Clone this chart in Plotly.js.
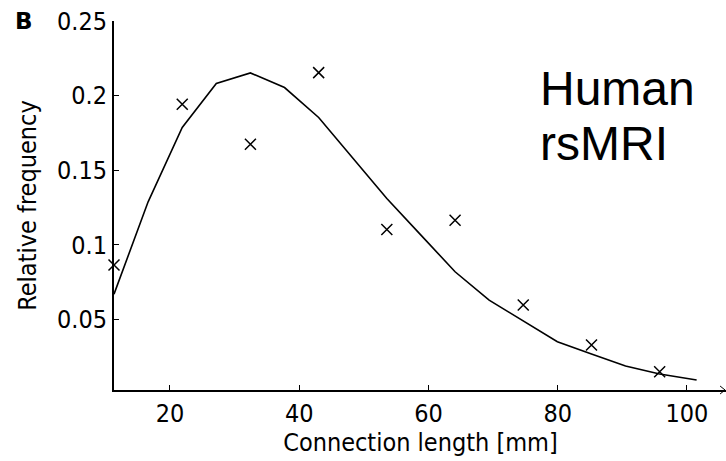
<!DOCTYPE html>
<html>
<head>
<meta charset="utf-8">
<script src="https://cdn.plot.ly/plotly-3.0.1.min.js"></script>
<style>
  html, body { margin: 0; padding: 0; overflow: hidden; background: #fff; }
  #chart { width: 740px; height: 461px; }
</style>
</head>
<body>
<div id="chart"></div>
<script>
// Binned connection lengths (mm) and observed relative frequency
const binLength = [11.34, 21.90, 32.45, 43.01, 53.56, 64.12, 74.67, 85.23, 95.78];
const observedFreq = [0.0864, 0.1942, 0.1674, 0.2154, 0.1103, 0.1165, 0.0596, 0.0328, 0.0149];

// Fitted distribution, sampled at half-bin steps
const fitLength = [11.34, 16.62, 21.90, 27.17, 32.45, 37.73, 43.01, 48.28, 53.56,
                   58.84, 64.12, 69.39, 74.67, 79.95, 85.23, 90.50, 95.78, 101.5];
const fitFreq = [0.0669, 0.1288, 0.1786, 0.2081, 0.2152, 0.2054, 0.1853, 0.1578, 0.1310,
                 0.1065, 0.0819, 0.0629, 0.0492, 0.0350, 0.0268, 0.0187, 0.0134, 0.0093];

// Axis ticks
const xTicks = [20, 40, 60, 80, 100];
const yTicks = [0.05, 0.1, 0.15, 0.2, 0.25];
const yTickText = ['0.05', '0.1', '0.15', '0.2', '0.25'];

const xRange = [11.34, 106.2];
const yRange = [0.00265, 0.25];

const sans = 'DejaVu Sans Condensed, DejaVu Sans, sans-serif';
const tickFont = { family: sans, size: 25, color: '#000' };

const traces = [
  {
    x: fitLength, y: fitFreq, type: 'scatter', mode: 'lines',
    line: { color: '#000', width: 1.6 },
    cliponaxis: false, hoverinfo: 'skip'
  },
  {
    x: binLength, y: observedFreq, type: 'scatter', mode: 'markers',
    marker: { symbol: 'x-thin', size: 11, color: '#000', line: { color: '#000', width: 1.5 } },
    cliponaxis: false, hoverinfo: 'skip'
  }
];

const baseAxis = {
  showgrid: false, zeroline: false, showline: true, linecolor: '#000',
  ticks: 'inside', ticklen: 5, tickwidth: 1, tickcolor: '#000'
};

const layout = {
  width: 740, height: 461,
  margin: { l: 114, r: 12.6, t: 20.7, b: 71 },
  paper_bgcolor: '#fff', plot_bgcolor: '#fff',
  showlegend: false,
  xaxis: Object.assign({}, baseAxis, {
    range: xRange, tickvals: xTicks, linewidth: 2, tickfont: tickFont,
    title: { text: 'Connection length [mm]', font: tickFont, standoff: 4 }
  }),
  xaxis2: Object.assign({}, baseAxis, {
    range: xRange, tickvals: xTicks, linewidth: 1, showticklabels: false,
    overlaying: 'x', side: 'top', anchor: 'y'
  }),
  yaxis: Object.assign({}, baseAxis, {
    range: yRange, tickvals: yTicks, ticktext: yTickText, linewidth: 2, tickfont: tickFont,
    title: { text: 'Relative frequency', font: tickFont, standoff: 13 }
  }),
  yaxis2: Object.assign({}, baseAxis, {
    range: yRange, tickvals: yTicks, linewidth: 1, showticklabels: false,
    overlaying: 'y', side: 'right', anchor: 'x'
  }),
  shapes: [
    // arrow head closing the x axis
    { type: 'path', xref: 'paper', yref: 'paper',
      path: 'M 0.9887,0.0108 L 0.9968,0 L 0.9887,-0.0108',
      line: { color: '#000', width: 1 } }
  ],
  annotations: [
    { text: '<b>B</b>', xref: 'paper', yref: 'paper', x: -0.1475, y: 0.9992,
      xanchor: 'center', yanchor: 'middle', showarrow: false, borderpad: 0,
      font: { family: 'DejaVu Sans, sans-serif', size: 23, color: '#000' } },
    { text: 'Human', xref: 'paper', yref: 'paper', x: 0.6929, y: 0.8178,
      xanchor: 'left', yanchor: 'middle', showarrow: false, borderpad: 0,
      font: { family: 'Liberation Sans, Arial, sans-serif', size: 48, color: '#000' } },
    { text: 'rsMRI', xref: 'paper', yref: 'paper', x: 0.6929, y: 0.6667,
      xanchor: 'left', yanchor: 'middle', showarrow: false, borderpad: 0,
      font: { family: 'Liberation Sans, Arial, sans-serif', size: 48, color: '#000' } }
  ]
};

Plotly.newPlot('chart', traces, layout, { displayModeBar: false, staticPlot: true });
</script>
</body>
</html>
